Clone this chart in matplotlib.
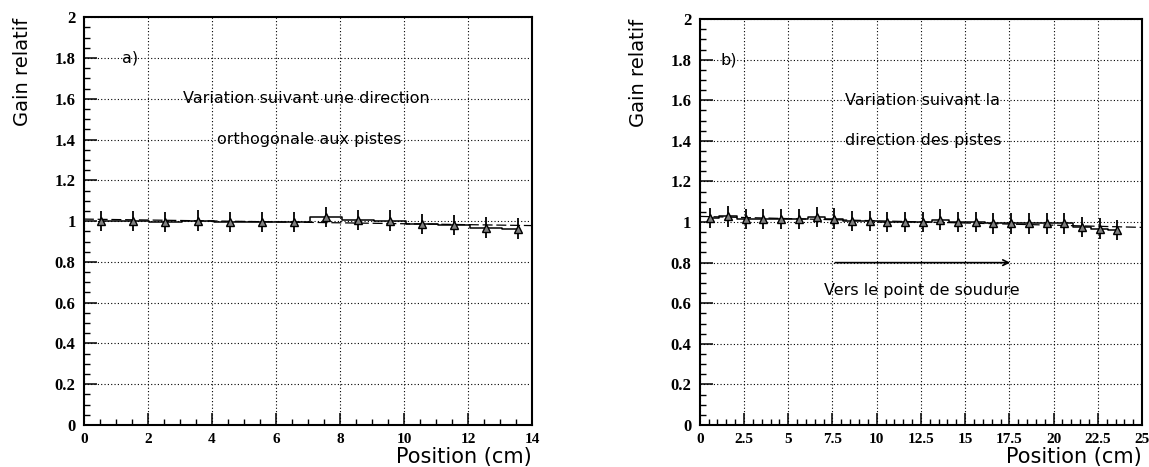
import matplotlib
matplotlib.use('Agg')
import matplotlib.pyplot as plt
import numpy as np
from matplotlib.ticker import MultipleLocator

# panel a) : orthogonal to strips
pos_a = [0.55, 1.55, 2.55, 3.55, 4.55, 5.55, 6.55, 7.55, 8.55, 9.55, 10.55, 11.55, 12.55, 13.55]
gain_a = [1.0, 1.0, 0.997, 1.003, 0.997, 0.997, 0.997, 1.02, 1.005, 1.003, 0.985, 0.98, 0.968, 0.963]
err_a = [0.05] * len(pos_a)

# panel b) : along the strips
pos_b = [0.6, 1.6, 2.6, 3.6, 4.6, 5.6, 6.6, 7.6, 8.6, 9.6, 10.6, 11.6,
         12.6, 13.6, 14.6, 15.6, 16.6, 17.6, 18.6, 19.6, 20.6, 21.6, 22.6, 23.6]
gain_b = [1.02, 1.028, 1.015, 1.015, 1.015, 1.015, 1.025, 1.017, 1.005, 1.005, 1.0, 1.0,
          1.0, 1.012, 1.0, 1.0, 0.993, 0.993, 0.993, 0.993, 0.993, 0.975, 0.968, 0.96]
err_b = [0.05] * len(pos_b)

ytick_font = {'family': 'Liberation Serif', 'weight': 'bold', 'size': 12}
xtick_font = {'family': 'Liberation Serif', 'weight': 'bold', 'size': 11}
note_font = {'family': 'DejaVu Sans', 'size': 11.5}

fig = plt.figure(figsize=(11.49, 4.67), dpi=100)
ax1 = fig.add_axes([0.073, 0.09, 0.390, 0.873])
ax2 = fig.add_axes([0.609, 0.09, 0.385, 0.869])


def draw_panel(ax, x, y, e, xmax, xmajor):
    ax.errorbar(x, y, yerr=e, fmt='^', color='black', ms=5.5, mfc='0.5', mec='black',
                elinewidth=1.3, capsize=0)
    ax.step(x, y, where='mid', color='black', lw=1.1)
    p = np.polyfit(x, y, 1)
    xx = np.array([0, xmax])
    ax.plot(xx, np.polyval(p, xx), color='black', lw=0.9, ls=(0, (8, 3)))
    ax.set_xlim(0, xmax)
    ax.set_ylim(0, 2)
    ax.xaxis.set_major_locator(MultipleLocator(xmajor))
    ax.xaxis.set_minor_locator(MultipleLocator(0.5))
    ax.yaxis.set_major_locator(MultipleLocator(0.2))
    ax.yaxis.set_minor_locator(MultipleLocator(0.05))
    ax.xaxis.set_major_formatter(plt.FuncFormatter(lambda v, _: '%g' % v))
    ax.yaxis.set_major_formatter(plt.FuncFormatter(lambda v, _: '%g' % v))
    ax.grid(True, which='major', color='black', ls=(0, (1, 2)), lw=0.8)
    ax.tick_params(which='both', direction='in', top=False, right=False, color='black')
    ax.tick_params(which='major', length=9, width=1.1, pad=6)
    ax.tick_params(which='minor', length=4, width=1)
    for s in ax.spines.values():
        s.set_linewidth(1.5)
    ax.set_ylabel('Gain relatif', family='DejaVu Sans', size=14, loc='top', labelpad=16)
    ax.set_xlabel('Position (cm)', family='DejaVu Sans', size=15, loc='right')
    ax.xaxis.set_label_coords(1.0, -0.054)


draw_panel(ax1, pos_a, gain_a, err_a, 14, 2)
ax1.text(1.2, 1.8, 'a)', fontdict=note_font, va='center')
ax1.text(3.1, 1.6, 'Variation suivant une direction', fontdict=note_font, va='center')
ax1.text(4.15, 1.4, 'orthogonale aux pistes', fontdict=note_font, va='center')

draw_panel(ax2, pos_b, gain_b, err_b, 25, 2.5)
ax2.text(1.2, 1.8, 'b)', fontdict=note_font, va='center')
ax2.text(8.2, 1.6, 'Variation suivant la', fontdict=note_font, va='center')
ax2.text(8.2, 1.4, 'direction des pistes', fontdict=note_font, va='center')
ax2.annotate('', xy=(17.7, 0.8), xytext=(7.5, 0.8),
             arrowprops=dict(arrowstyle='->', color='black', lw=1.2))
ax2.text(7.0, 0.665, 'Vers le point de soudure', fontdict=note_font, va='center')

for ax in (ax1, ax2):
    for lab in ax.get_xticklabels():
        lab.set_fontproperties(xtick_font)
    for lab in ax.get_yticklabels():
        lab.set_fontproperties(ytick_font)

fig.savefig('out.png', dpi=100)
